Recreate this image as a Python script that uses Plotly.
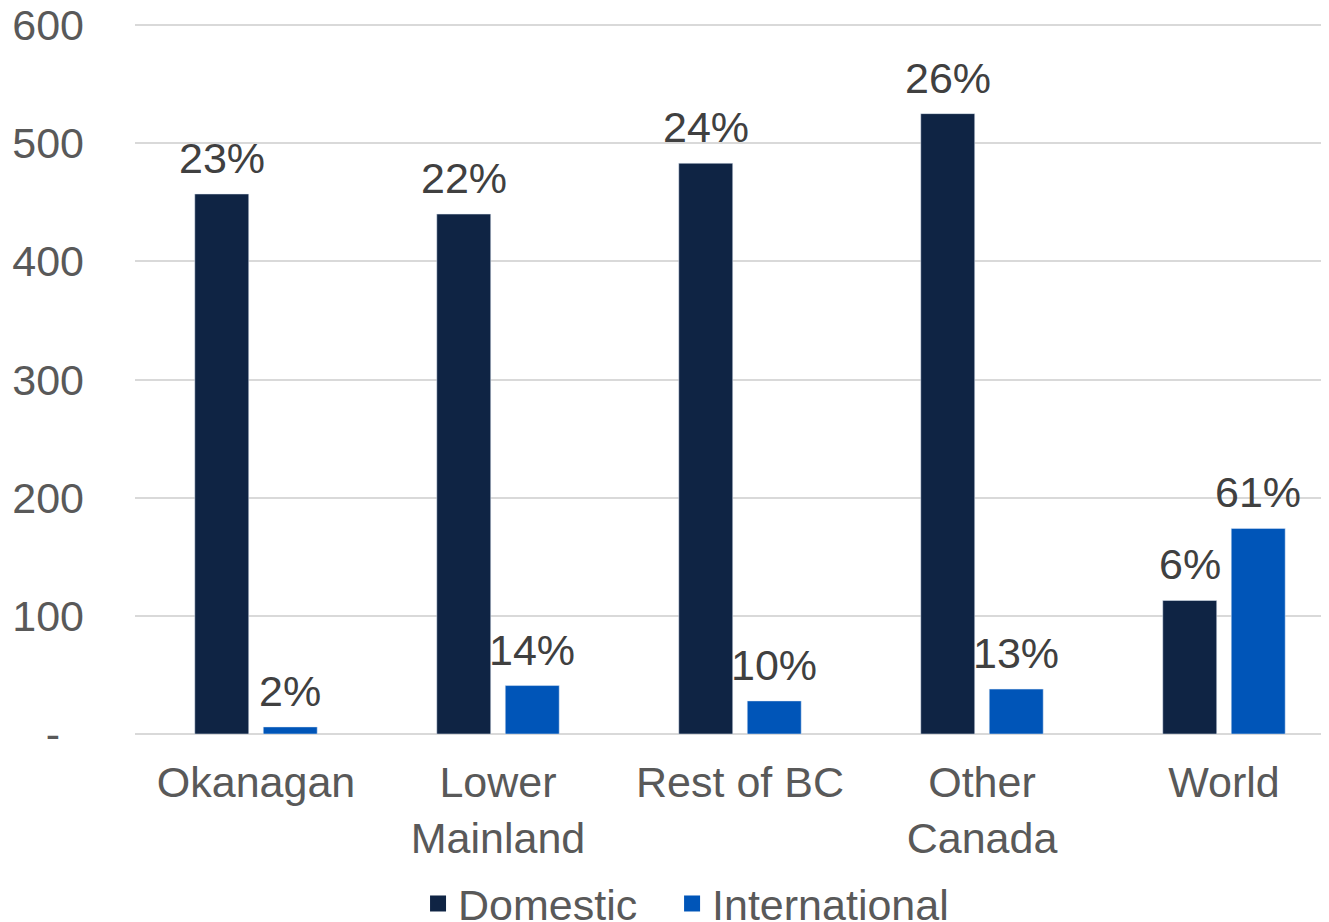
import plotly.graph_objects as go

# DATA
regions = ['Okanagan', 'Lower<br>Mainland', 'Rest of BC', 'Other<br>Canada', 'World']
domestic = [457, 440, 483, 525, 113]
international = [6, 41, 28, 38, 174]
domestic_pct = ['23%', '22%', '24%', '26%', '6%']
international_pct = ['2%', '14%', '10%', '13%', '61%']
y_ticks = [0, 100, 200, 300, 400, 500, 600]
y_ticktext = ['-\u00a0\u00a0', '100', '200', '300', '400', '500', '600']

DOM_COLOR = '#0F2444'
INT_COLOR = '#0055B8'
FONT = 'Arial, "Liberation Sans", sans-serif'
FS = 43

fig = go.Figure()
fig.add_trace(go.Bar(x=regions, y=domestic, name='Domestic', marker_color=DOM_COLOR, showlegend=False))
fig.add_trace(go.Bar(x=regions, y=international, name='International', marker_color=INT_COLOR, showlegend=False))

# legend entries with bigger square swatches, one legend each so they can be spaced
for name, color, lg in [('Domestic', DOM_COLOR, 'legend'), ('International', INT_COLOR, 'legend2')]:
    fig.add_trace(go.Scatter(x=[None], y=[None], mode='markers', name=name, legend=lg,
                             marker=dict(symbol='square', size=20, color=color)))

# Percentage labels above the bars
for cat, val, txt in zip(regions, domestic, domestic_pct):
    fig.add_annotation(x=cat, y=val, text=txt, showarrow=False, xshift=-34.25,
                       yanchor='bottom', yshift=10, font=dict(size=FS, color='#404040'))
for cat, val, txt in zip(regions, international, international_pct):
    fig.add_annotation(x=cat, y=val, text=txt, showarrow=False, xshift=34.25,
                       yanchor='bottom', yshift=10, font=dict(size=FS, color='#404040'))

legend_style = dict(orientation='h', xref='container', yref='container', xanchor='left',
                    y=0.0202, yanchor='middle', font=dict(size=FS, color='#595959'),
                    itemclick=False, bgcolor='rgba(0,0,0,0)')

# page body has an 8px margin, so the figure is sized to fit the window
fig.update_layout(
    width=1321, height=914,
    barmode='group', bargap=0.434, bargroupgap=0.212,
    paper_bgcolor='white', plot_bgcolor='white',
    font=dict(family=FONT, size=FS, color='#595959'),
    margin=dict(l=127, r=0, t=15, b=188),
    showlegend=True,
    legend=dict(x=0.3104, **legend_style),
    legend2=dict(x=0.5027, **legend_style),
)
fig.update_xaxes(range=[-0.5, 4.434], showgrid=False, showline=False, zeroline=False,
                 automargin=False, ticks='', ticklabelstandoff=19,
                 tickfont=dict(size=FS, color='#595959'))
fig.update_yaxes(range=[0, 601.7], tickvals=y_ticks, ticktext=y_ticktext,
                 showgrid=True, gridcolor='#D9D9D9', gridwidth=2,
                 zeroline=True, zerolinecolor='#D9D9D9', zerolinewidth=2,
                 automargin=False, ticks='', ticklabelstandoff=50, ticklabeloverflow='allow',
                 tickfont=dict(size=FS, color='#595959'))

fig.write_html('out.html')
